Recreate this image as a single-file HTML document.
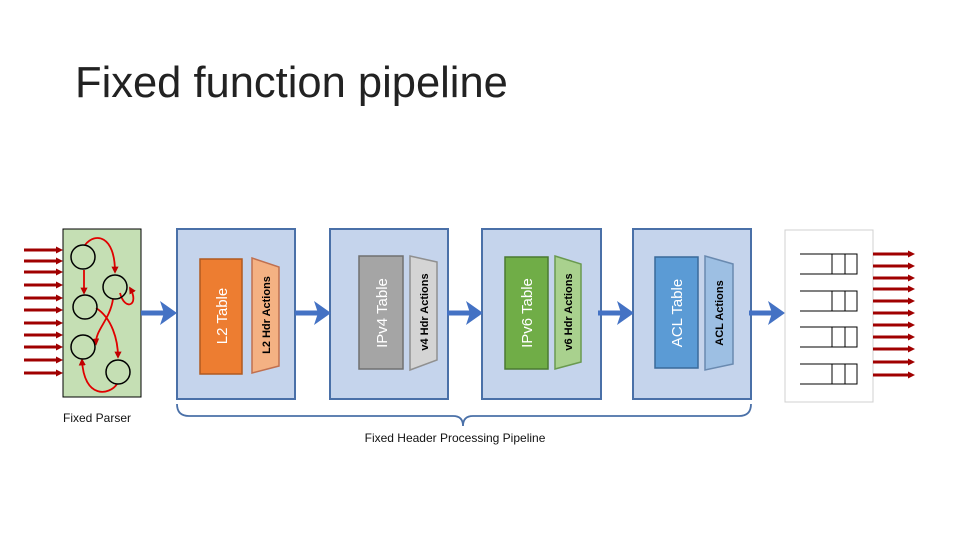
<!DOCTYPE html>
<html><head><style>
body{margin:0;background:#fff;width:960px;height:540px;overflow:hidden}
svg{display:block}
</style></head><body>
<svg width="960" height="540" viewBox="0 0 960 540" xmlns="http://www.w3.org/2000/svg" font-family="Liberation Sans, sans-serif">
<defs>
<marker id="ra" markerWidth="4" markerHeight="4" refX="3" refY="2" orient="auto"><path d="M0,0 L4,2 L0,4 z" fill="#c00000"/></marker>
</defs>
<text x="75" y="97" font-size="43.5" fill="#222">Fixed function pipeline</text>

<!-- parser -->
<rect x="63" y="229" width="78" height="168" fill="#c5dfb4" stroke="#000" stroke-width="1"/>
<g stroke="#a00000" stroke-width="3" fill="#a00000">
<g id="arr">
<line x1="24" y1="250" x2="57" y2="250"/><polygon points="56,246.5 63,250 56,253.5" stroke="none"/>
</g>
<use href="#arr" y="11"/><use href="#arr" y="22"/><use href="#arr" y="35"/><use href="#arr" y="48"/><use href="#arr" y="60"/><use href="#arr" y="73"/><use href="#arr" y="85"/><use href="#arr" y="97"/><use href="#arr" y="110"/><use href="#arr" y="123"/>
</g>
<g fill="none" stroke="#e00000" stroke-width="1.8">
<path d="M85,245 C95,232 115,235 115,272" marker-end="url(#ra)"/>
<path d="M84,270 L84,293" marker-end="url(#ra)"/>
<path d="M120,293 C125,312 140,305 130,288" marker-end="url(#ra)"/>
<path d="M113,299 C110,320 95,330 96,344" marker-end="url(#ra)"/>
<path d="M96,308 C112,318 118,340 118,357" marker-end="url(#ra)"/>
<path d="M117,384 C110,395 84,400 82,360" marker-end="url(#ra)"/>
</g>
<g fill="none" stroke="#000" stroke-width="1.5">
<circle cx="83" cy="257" r="12"/><circle cx="115" cy="287" r="12"/><circle cx="85" cy="307" r="12"/><circle cx="83" cy="347" r="12"/><circle cx="118" cy="372" r="12"/>
</g>
<text x="63" y="422" font-size="12" fill="#111">Fixed Parser</text>

<!-- stages -->
<g stroke="#4a70a8" stroke-width="2" fill="#c5d4ec">
<rect x="177" y="229" width="118" height="170"/>
<rect x="330" y="229" width="118" height="170"/>
<rect x="482" y="229" width="119" height="170"/>
<rect x="633" y="229" width="118" height="170"/>
</g>
<g stroke-width="1.5">
<rect x="200" y="259" width="42" height="115" fill="#ed7d31" stroke="#b05a20"/>
<polygon points="252,258 279,267 279,366 252,373" fill="#f4b183" stroke="#c07050"/>
<rect x="359" y="256" width="44" height="113" fill="#a5a5a5" stroke="#707070"/>
<polygon points="410,256 437,262 437,360 410,370" fill="#d4d4d4" stroke="#909090"/>
<rect x="505" y="257" width="43" height="112" fill="#70ad47" stroke="#4a7a30"/>
<polygon points="555,256 581,264 581,362 555,369" fill="#a9d18e" stroke="#6a9a50"/>
<rect x="655" y="257" width="43" height="111" fill="#5b9bd5" stroke="#3a6a9a"/>
<polygon points="705,256 733,264 733,364 705,370" fill="#9dbfe3" stroke="#6a8ab0"/>
</g>
<g font-size="15" fill="#fff" text-anchor="middle">
<text transform="translate(227,316) rotate(-90)">L2 Table</text>
<text transform="translate(387,313) rotate(-90)">IPv4 Table</text>
<text transform="translate(532,313) rotate(-90)">IPv6 Table</text>
<text transform="translate(682,313) rotate(-90)">ACL Table</text>
</g>
<g font-size="11" font-weight="bold" fill="#000" text-anchor="middle">
<text transform="translate(270,315) rotate(-90)">L2 Hdr Actions</text>
<text transform="translate(428,312) rotate(-90)">v4 Hdr Actions</text>
<text transform="translate(572,312) rotate(-90)">v6 Hdr Actions</text>
<text transform="translate(723,313) rotate(-90)">ACL Actions</text>
</g>

<!-- blue arrows -->
<g fill="#4472c4">
<g id="ba"><rect x="141" y="310.5" width="28" height="5"/><polygon points="160,301 177,313 160,325 164,313"/></g>
<use href="#ba" x="154"/><use href="#ba" x="306"/><use href="#ba" x="457"/><use href="#ba" x="608"/>
</g>

<!-- output -->
<rect x="785" y="230" width="88" height="172" fill="#fff" stroke="#d0d0d0"/>
<g stroke="#000" stroke-width="1" fill="none">
<g id="q"><path d="M800,254 H857 V274 H800 M832,254 V274 M845,254 V274"/></g>
<use href="#q" y="37"/><use href="#q" y="73"/><use href="#q" y="110"/>
</g>
<g stroke="#a00000" stroke-width="3" fill="#a00000">
<g id="oa"><line x1="873" y1="254" x2="909" y2="254"/><polygon points="908,250.5 915,254 908,257.5" stroke="none"/></g>
<use href="#oa" y="12"/><use href="#oa" y="24"/><use href="#oa" y="35"/><use href="#oa" y="47"/><use href="#oa" y="59"/><use href="#oa" y="71"/><use href="#oa" y="83"/><use href="#oa" y="95"/><use href="#oa" y="108"/><use href="#oa" y="121"/>
</g>

<!-- brace -->
<path d="M177,404 Q177,416 189,416 L453,416 Q463,416 463,426 Q463,416 473,416 L739,416 Q751,416 751,404" fill="none" stroke="#4a70a8" stroke-width="1.8"/>
<text x="455" y="442" font-size="12" text-anchor="middle" fill="#111">Fixed Header Processing Pipeline</text>
</svg>
</body></html>
